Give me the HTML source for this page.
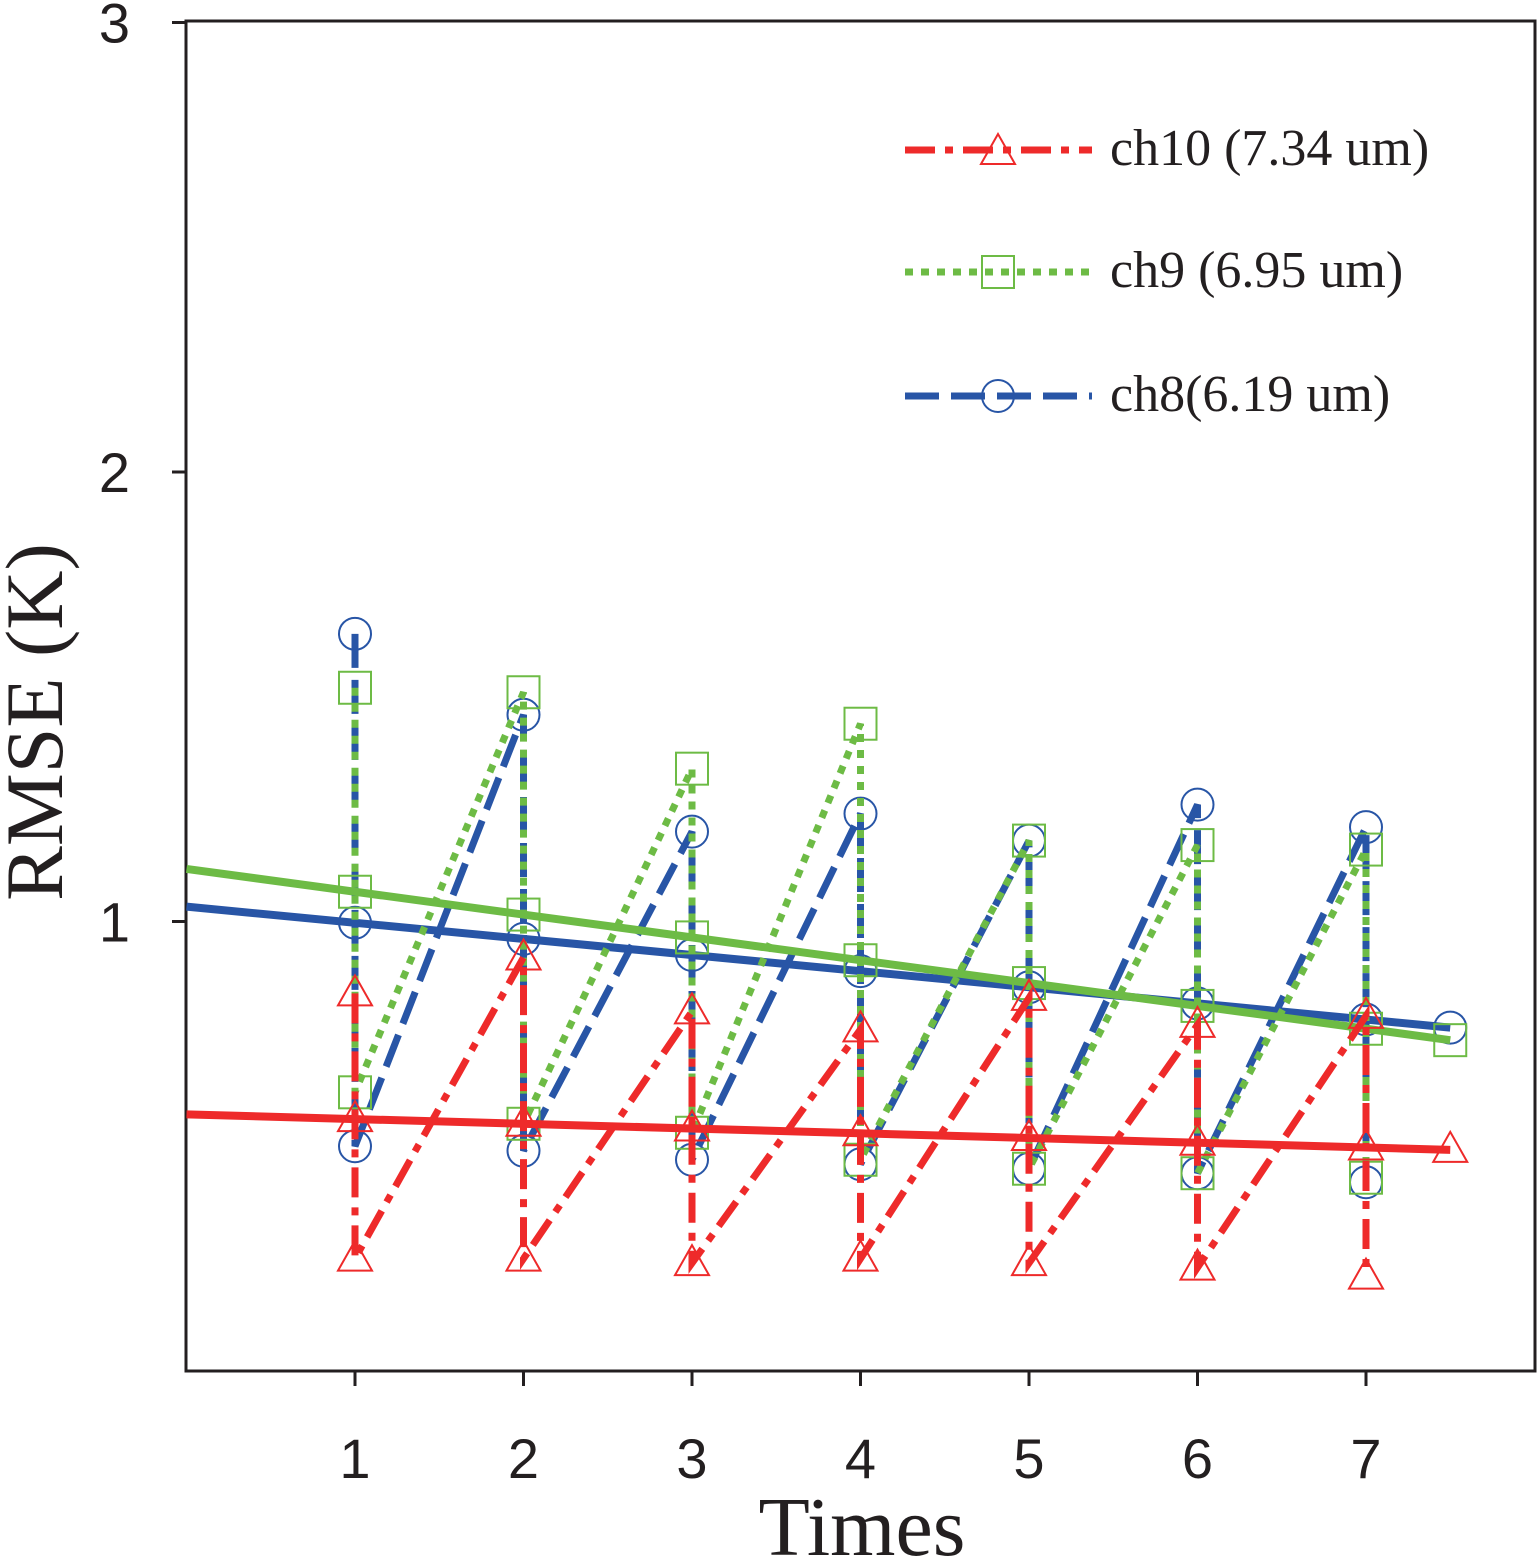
<!DOCTYPE html>
<html><head><meta charset="utf-8"><style>
html,body{margin:0;padding:0;background:#fff;}
svg{display:block;}
</style></head><body>
<svg id="chart" width="1538" height="1559" viewBox="0 0 1538 1559" xmlns="http://www.w3.org/2000/svg">
<rect x="186" y="21" width="1349" height="1350" fill="none" stroke="#231f20" stroke-width="3"/>
<g id="axes"></g>
<g id="series"></g>
<g id="legend"></g>
<text x="862" y="1555" font-family="Liberation Serif, serif" font-size="84" text-anchor="middle" fill="#231f20">Times</text>
<text transform="translate(62,722) rotate(-90)" font-family="Liberation Serif, serif" font-size="82" text-anchor="middle" fill="#231f20">RMSE (K)</text>
</svg>
<script>
const xTicks=[1,2,3,4,5,6,7];
const yTicks=[1,2,3];
const redHigh=[0.84,0.92,0.80,0.76,0.83,0.77,0.79];
const redLow=[0.25,0.25,0.24,0.25,0.24,0.23,0.21];
const greenHigh=[1.52,1.51,1.34,1.44,1.18,1.17,1.16];
const greenLow=[0.62,0.55,0.53,0.47,0.45,0.44,0.43];
const blueHigh=[1.64,1.46,1.20,1.24,1.18,1.26,1.21];
const blueLow=[0.50,0.49,0.47,0.46,0.45,0.44,0.42];
const redTrend=[0.571,0.492];
const greenTrend=[1.117,0.736];
const blueTrend=[1.033,0.764];
const trendX=[0,7.5];

const NS="http://www.w3.org/2000/svg";
const X=v=>186.5+v*168.5;
const Y=v=>1371-v*449.5;
function mk(tag,attrs,parent){const e=document.createElementNS(NS,tag);for(const k in attrs)e.setAttribute(k,attrs[k]);parent.appendChild(e);return e;}
const axes=document.getElementById('axes'),ser=document.getElementById('series'),leg=document.getElementById('legend');

xTicks.forEach(t=>{
  const l=mk('line',{x1:X(t),x2:X(t),y1:1371,y2:1386,stroke:'#231f20','stroke-width':3},axes);
  
  
  const tx=mk('text',{x:X(t),y:1478,'font-family':'Liberation Sans, sans-serif','font-size':56,'text-anchor':'middle',fill:'#231f20'},axes);
  tx.textContent=t;
  
  
});
yTicks.forEach(t=>{
  const l=mk('line',{x1:172,x2:186,y1:Y(t),y2:Y(t),stroke:'#231f20','stroke-width':3},axes);
  
  
  const tx=mk('text',{x:130,y:Y(t)+20,'font-family':'Liberation Sans, sans-serif','font-size':56,'text-anchor':'end',fill:'#231f20'},axes);
  tx.textContent=t;
  
  
});

function marker(type,x,y,color,parent){
  let e;
  if(type==='tri') e=mk('polygon',{points:`${x},${y-18} ${x-17},${y+12} ${x+17},${y+12}`,fill:'none',stroke:color,'stroke-width':2},parent);
  else if(type==='sq') e=mk('rect',{x:x-16,y:y-16,width:32,height:32,fill:'none',stroke:color,'stroke-width':2},parent);
  else e=mk('circle',{cx:x,cy:y,r:16,fill:'none',stroke:color,'stroke-width':2},parent);
  return e;
}
function sawPath(hi,lo){
  let d='';
  for(let i=0;i<hi.length;i++){
    d+=(i===0?'M':'L')+X(xTicks[i])+','+Y(hi[i])+' L'+X(xTicks[i])+','+Y(lo[i])+' ';
  }
  return d;
}
const specs=[
 {name:'ch8',hi:blueHigh,lo:blueLow,tr:blueTrend,color:'#2855a6',dash:'34,12',m:'circ'},
 {name:'ch9',hi:greenHigh,lo:greenLow,tr:greenTrend,color:'#6dbb45',dash:'8,8',m:'sq'},
 {name:'ch10',hi:redHigh,lo:redLow,tr:redTrend,color:'#ee2a2a',dash:'30,10,8,10',m:'tri'}
];
specs.forEach(s=>{
  const g=mk('g',{},ser);
  
  
  const p=mk('path',{d:sawPath(s.hi,s.lo),fill:'none',stroke:s.color,'stroke-width':7,'stroke-dasharray':s.dash},g);
  
  
  const tl=mk('line',{x1:X(trendX[0]),y1:Y(s.tr[0]),x2:X(trendX[1]),y2:Y(s.tr[1]),stroke:s.color,'stroke-width':8},g);
  
  
  const tv=x=>s.tr[0]+(s.tr[1]-s.tr[0])*(x-trendX[0])/(trendX[1]-trendX[0]);
  xTicks.concat([trendX[1]]).forEach(x=>{
    const m=marker(s.m,X(x),Y(tv(x)),s.color,g);
    
    
  });
  xTicks.forEach((x,i)=>{
    const a=marker(s.m,X(x),Y(s.hi[i]),s.color,g);
    
    
    const b=marker(s.m,X(x),Y(s.lo[i]),s.color,g);
    
    
  });
});
const legItems=[
 {label:'ch10 (7.34 um)',color:'#ee2a2a',dash:'30,10,8,10',m:'tri',y:150},
 {label:'ch9 (6.95  um)',color:'#6dbb45',dash:'8,8',m:'sq',y:272},
 {label:'ch8(6.19 um)',color:'#2855a6',dash:'34,12',m:'circ',y:396}
];
legItems.forEach(it=>{
  const g=mk('g',{},leg);
  
  
  mk('line',{x1:905,x2:1092,y1:it.y,y2:it.y,stroke:it.color,'stroke-width':7,'stroke-dasharray':it.dash},g);
  marker(it.m,998,it.y+(it.m==='tri'?2:0),it.color,g);
  const t=mk('text',{x:1110,y:it.y+15,'font-family':'Liberation Serif, serif','font-size':52,fill:'#231f20','xml:space':'preserve'},g);
  t.textContent=it.label;
});
</script>
</body></html>
